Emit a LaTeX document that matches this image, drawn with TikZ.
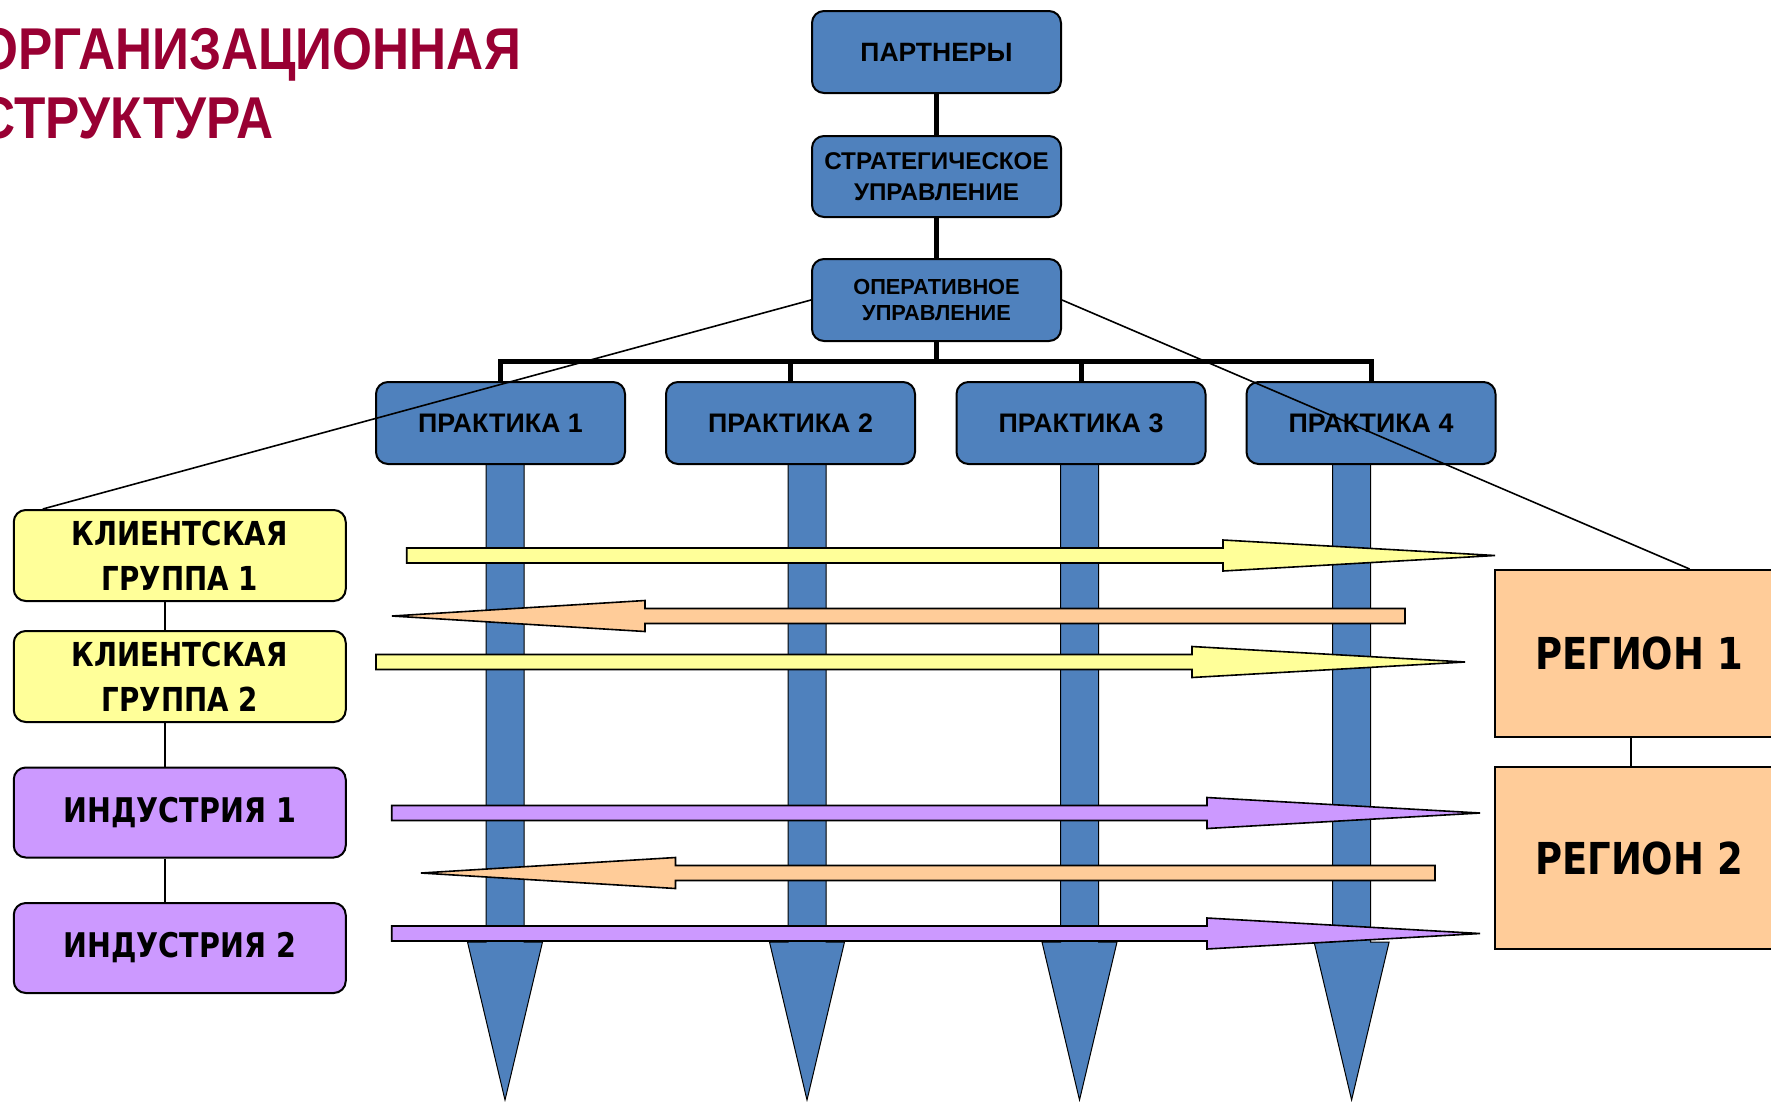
\documentclass[tikz,border=0pt]{standalone}
\usepackage{fontspec}
\usetikzlibrary{calc}
\setmainfont{Liberation Sans}
\newfontfamily\djv[FakeStretch=0.84]{DejaVu Sans}
\newfontfamily\ttlfont[FakeStretch=0.87]{Liberation Sans}
\definecolor{boxblue}{HTML}{4F81BD}
\definecolor{cyellow}{HTML}{FFFF99}
\definecolor{cpurple}{HTML}{CC99FF}
\definecolor{cpeach}{HTML}{FFCC99}
\definecolor{ttlred}{HTML}{990033}
\newcommand\blkarrow[5]{% colour, y, tail x, head base x, tip x
  \draw[arrowshape, fill=#1] ({#3},{#2-7.5}) -- ({#4},{#2-7.5}) -- ({#4},{#2-15.5}) -- ({#5},{#2})
    -- ({#4},{#2+15.5}) -- ({#4},{#2+7.5}) -- ({#3},{#2+7.5}) -- cycle;}
\newcommand\downbar[1]{%
  \draw[barshape] ({#1-19},463) -- ({#1+19},463) -- ({#1+19},942) -- ({#1+37.5},942) -- ({#1},1100)
    -- ({#1-37.5},942) -- ({#1-19},942) -- cycle;}
\begin{document}
\begin{tikzpicture}[x=1pt,y=-1pt,
  bluebox/.style={draw=black, line width=2pt, fill=boxblue, rounded corners=12pt,
    minimum width=249pt, inner sep=0pt, align=center},
  leftbox/.style={draw=black, line width=2pt, rounded corners=12pt, minimum width=332pt,
    minimum height=90pt, inner sep=0pt, align=center,
    font=\djv\fontsize{33}{45}\selectfont\bfseries},
  regbox/.style={draw=black, line width=2pt, fill=cpeach, minimum width=288pt, inner sep=0pt,
    font=\djv\fontsize{44}{50}\selectfont\bfseries},
  bus/.style={line width=5pt, line join=miter},
  thinlink/.style={line width=1.6pt},
  arrowshape/.style={draw=black, line width=1.6pt, line join=miter},
  barshape/.style={draw=black, line width=1pt, fill=boxblue, line join=miter},
  ttl/.style={anchor=base west, text=ttlred, inner sep=0pt,
    font=\ttlfont\fontsize{59}{60}\selectfont\bfseries}
]
\clip (0,0) rectangle (1771,1101);
\fill[white] (0,0) rectangle (1771,1101);

% title
\node[ttl] (t1) at (-22,69) {ОРГАНИЗАЦИОННАЯ};
\node[ttl] (t2) at (-22,138) {СТРУКТУРА};

% down arrows of the practices
\downbar{505}
\downbar{807}
\downbar{1079.5}
\downbar{1351.6}

% top hierarchy
\node[bluebox, minimum height=82pt, font=\fontsize{26.5}{30}\selectfont\bfseries] (partners) at (936.5,52) {ПАРТНЕРЫ};
\node[bluebox, minimum height=81pt, font=\fontsize{24.2}{31}\selectfont\bfseries] (strat) at (936.5,176.5) {СТРАТЕГИЧЕСКОЕ\\УПРАВЛЕНИЕ};
\node[bluebox, minimum height=82pt, font=\fontsize{21.8}{25.5}\selectfont\bfseries] (ops) at (936.5,300) {ОПЕРАТИВНОЕ\\УПРАВЛЕНИЕ};

\node[bluebox, minimum height=82pt, font=\fontsize{26.8}{30}\selectfont\bfseries] (p1) at (500.5,423) {ПРАКТИКА 1};
\node[bluebox, minimum height=82pt, font=\fontsize{26.8}{30}\selectfont\bfseries] (p2) at (790.5,423) {ПРАКТИКА 2};
\node[bluebox, minimum height=82pt, font=\fontsize{26.8}{30}\selectfont\bfseries] (p3) at (1081,423) {ПРАКТИКА 3};
\node[bluebox, minimum height=82pt, font=\fontsize{26.8}{30}\selectfont\bfseries] (p4) at (1371,423) {ПРАКТИКА 4};

\coordinate (busy) at (0,361);
\draw[bus] (partners.south) -- (strat.north);
\draw[bus] (strat.south) -- (ops.north);
\draw[bus] (ops.south) -- (ops.south |- busy);
\draw[bus] (p1.north) -- (p1.north |- busy) -- (p4.north |- busy) -- (p4.north);
\draw[bus] (p2.north) -- (p2.north |- busy);
\draw[bus] (p3.north) -- (p3.north |- busy);

% left boxes
\node[leftbox, fill=cyellow, minimum height=91pt] (cg1) at (179.75,555.5) {КЛИЕНТСКАЯ\\ГРУППА 1};
\node[leftbox, fill=cyellow, minimum height=91pt] (cg2) at (179.75,676.5) {КЛИЕНТСКАЯ\\ГРУППА 2};
\node[leftbox, fill=cpurple, font=\djv\fontsize{34}{45}\selectfont\bfseries] (ind1) at (179.75,812.5) {ИНДУСТРИЯ 1};
\node[leftbox, fill=cpurple, font=\djv\fontsize{34}{45}\selectfont\bfseries] (ind2) at (179.75,948) {ИНДУСТРИЯ 2};
\coordinate (lc) at (165,0);
\draw[thinlink] (cg1.south -| lc) -- (cg2.north -| lc);
\draw[thinlink] (cg2.south -| lc) -- (ind1.north -| lc);
\draw[thinlink] (ind1.south -| lc) -- (ind2.north -| lc);

% regions
\node[regbox, minimum height=167pt] (reg1) at (1639,653.5) {РЕГИОН 1};
\node[regbox, minimum height=182pt] (reg2) at (1639,858) {РЕГИОН 2};
\coordinate (rc) at (1631,0);
\draw[thinlink] (reg1.south -| rc) -- (reg2.north -| rc);

% horizontal block arrows
\blkarrow{cyellow}{555.5}{406.7}{1223}{1495}
\blkarrow{cpeach}{616}{1405}{645}{392}
\blkarrow{cyellow}{662}{376}{1192}{1465}
\blkarrow{cpurple}{813}{391.7}{1207}{1480}
\blkarrow{cpeach}{873}{1435}{675.5}{421}
\blkarrow{cpurple}{933.5}{391.7}{1207}{1480}

% diagonal links
\draw[thinlink] (ops.west) -- ($(cg1.north west)+(30,0)$);
\draw[thinlink] (ops.east) -- ($(reg1.north west)+(195.6,0)$);
\end{tikzpicture}
\end{document}
